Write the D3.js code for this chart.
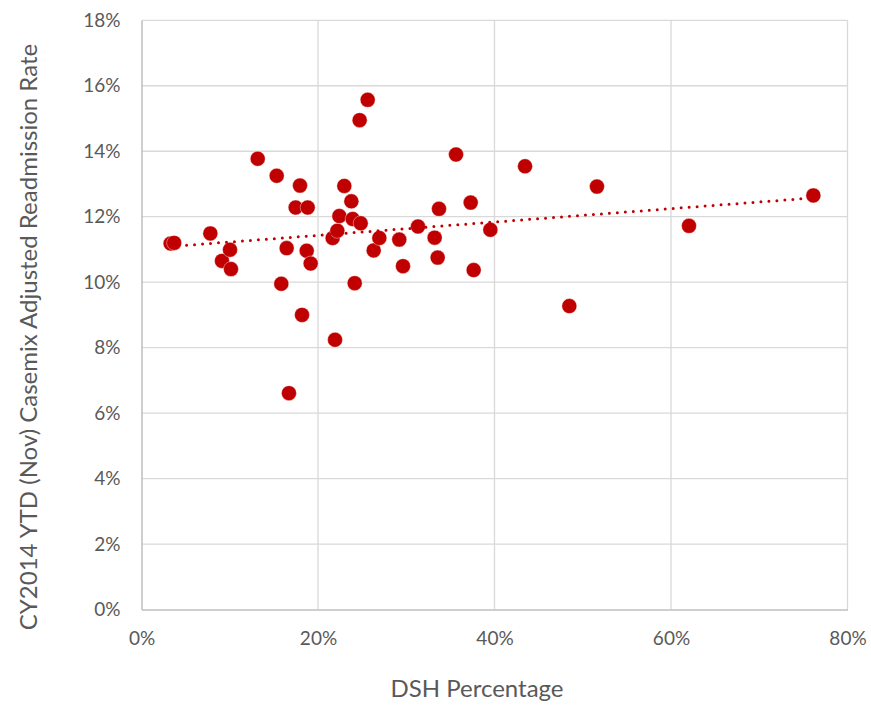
<!DOCTYPE html>
<html><head><meta charset="utf-8">
<script src="https://cdn.jsdelivr.net/npm/d3@7"></script>
<style>body{margin:0;background:#fff;} text{font-family:Lato,"Open Sans",sans-serif;fill:#595959;}</style>
</head><body>
<svg id="c" width="871" height="707"></svg>
<script>
const dshPct = [3.3,3.7,7.8,9.12,10.03,10.14,13.17,15.32,15.84,16.45,16.71,17.47,17.96,18.19,18.72,18.83,19.17,21.66,21.93,22.19,22.42,22.98,23.78,23.93,24.16,24.72,24.84,25.63,26.31,26.95,29.21,29.63,31.33,33.22,33.56,33.71,35.64,37.3,37.64,39.53,43.46,48.48,51.61,62.04,76.13];
const readmitRate = [11.18,11.2,11.49,10.65,10.99,10.40,13.77,13.25,9.95,11.04,6.61,12.28,12.95,9.0,10.96,12.28,10.57,11.35,8.24,11.57,12.02,12.94,12.47,11.93,9.97,14.95,11.8,15.57,10.97,11.35,11.3,10.49,11.7,11.36,10.75,12.24,13.9,12.43,10.37,11.6,13.54,9.27,12.92,11.72,12.65];
const trendX = [3.3, 76.13];
const trendY = [11.09, 12.575];
const xTicks = [0,20,40,60,80];
const yTicks = [0,2,4,6,8,10,12,14,16,18];
const xTitle = "DSH Percentage";
const yTitle = "CY2014 YTD (Nov) Casemix Adjusted Readmission Rate";

const svg = d3.select("#c");
const L=141.5, R=847.5, T=20.3, B=609.5;
const x = d3.scaleLinear().domain([0,80]).range([L,R]);
const y = d3.scaleLinear().domain([0,18]).range([B,T]);

// gridlines
svg.append("g").selectAll("line").data(yTicks.filter(d=>d>0)).join("line")
  .attr("x1",L).attr("x2",R).attr("y1",d=>y(d)).attr("y2",d=>y(d))
  .attr("stroke","#d9d9d9").attr("stroke-width",1.3);
svg.append("g").selectAll("line").data(xTicks.filter(d=>d>0)).join("line")
  .attr("y1",T).attr("y2",B).attr("x1",d=>x(d)).attr("x2",d=>x(d))
  .attr("stroke","#d9d9d9").attr("stroke-width",1.3);

// axes
const xAxis = svg.append("g").attr("transform",`translate(0,${B})`)
  .call(d3.axisBottom(x).tickValues(xTicks).tickSize(0).tickPadding(22).tickFormat(d=>d+"%"));
const yAxis = svg.append("g").attr("transform",`translate(${L},0)`)
  .call(d3.axisLeft(y).tickValues(yTicks).tickSize(0).tickPadding(21).tickFormat(d=>d+"%"));
[xAxis,yAxis].forEach(a=>{
  a.select(".domain").attr("stroke","#bfbfbf").attr("stroke-width",1.5);
  a.selectAll("text").attr("font-size",19).attr("fill","#595959").style("font-family","Lato");
});

// points
svg.append("g").selectAll("circle").data(dshPct.map((d,i)=>[d,readmitRate[i]])).join("circle")
  .attr("cx",d=>x(d[0])).attr("cy",d=>y(d[1])).attr("r",7.5)
  .attr("fill","#c00000").attr("stroke","#fff").attr("stroke-width",0.4);

// trendline
svg.append("path").datum(trendX.map((d,i)=>[d,trendY[i]]))
  .attr("d",d3.line().x(d=>x(d[0])).y(d=>y(d[1])))
  .attr("stroke","#c00000").attr("stroke-width",3).attr("fill","none")
  .attr("stroke-linecap","round").attr("stroke-dasharray","0 8");

// titles
svg.append("text").attr("x",477).attr("y",697).attr("text-anchor","middle")
  .attr("font-size",24).text(xTitle);
svg.append("text").attr("transform",`translate(37,337) rotate(-90)`).attr("text-anchor","middle")
  .attr("font-size",24).text(yTitle);
</script>
</body></html>
